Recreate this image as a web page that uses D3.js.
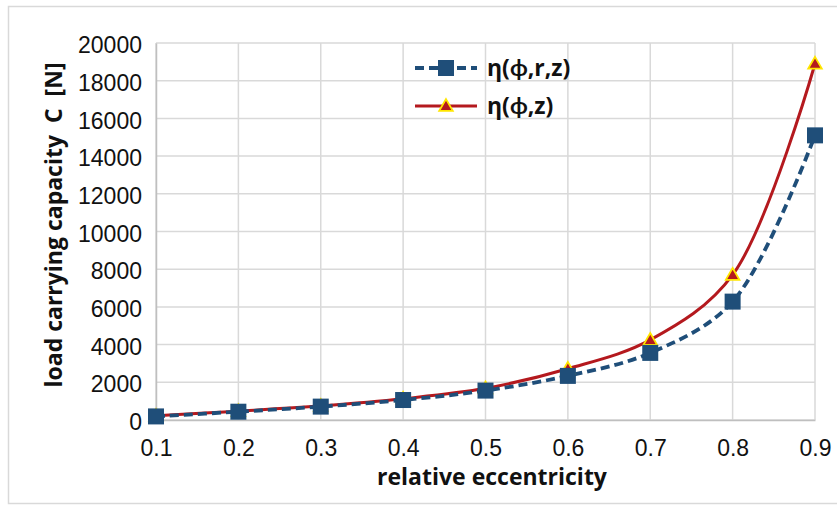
<!DOCTYPE html>
<html>
<head>
<meta charset="utf-8">
<script src="https://cdn.jsdelivr.net/npm/d3@7"></script>
<style>
    body { margin: 0; background: #fff; }
    svg { display: block; font-family: "Open Sans", Lato, sans-serif; }
</style>
</head>
<body>
<div id="chart"></div>
<script>
// values
const eccentricity = [0.1, 0.2, 0.3, 0.4, 0.5, 0.6, 0.7, 0.8, 0.9];
const loadRZ = [190, 440, 710, 1060, 1560, 2340, 3560, 6280, 15100];
const loadZ = [220, 470, 750, 1130, 1680, 2720, 4250, 7700, 18900];
const yTicks = [0, 2000, 4000, 6000, 8000, 10000, 12000, 14000, 16000, 18000, 20000];
const seriesNames = ['η(ϕ,r,z)', 'η(ϕ,z)'];

const W = 837, H = 507;
const margin = { top: 43, right: 22, bottom: 87, left: 156 };
const width = W - margin.left - margin.right;
const height = H - margin.top - margin.bottom;

const blue = '#1f4e79';
const red = '#b4191e';
const grid = '#d9d9d9';

const svg = d3.select('#chart').append('svg')
    .attr('width', W)
    .attr('height', H);

// outer chart frame
svg.append('rect')
    .attr('x', 8.5).attr('y', 6.5)
    .attr('width', W).attr('height', 497)
    .attr('fill', 'none')
    .attr('stroke', '#d9d9d9')
    .attr('stroke-width', 1.5);

const g = svg.append('g')
    .attr('transform', `translate(${margin.left},${margin.top})`);

const x = d3.scaleLinear().domain([0.1, 0.9]).range([0, width]);
const y = d3.scaleLinear().domain([0, 20000]).range([height, 0]);

// grid
g.append('g')
    .selectAll('line')
    .data(yTicks)
    .join('line')
    .attr('x1', 0).attr('x2', width)
    .attr('y1', d => y(d)).attr('y2', d => y(d))
    .attr('stroke', grid).attr('stroke-width', 1.5);

g.append('g')
    .selectAll('line')
    .data(eccentricity)
    .join('line')
    .attr('x1', d => x(d)).attr('x2', d => x(d))
    .attr('y1', 0).attr('y2', height)
    .attr('stroke', grid).attr('stroke-width', 1.5);

// axes
const yAxis = g.append('g')
    .call(d3.axisLeft(y).tickValues(yTicks).tickFormat(d3.format('d')).tickSize(0).tickPadding(14));
yAxis.select('.domain').attr('stroke', '#bfbfbf').attr('stroke-width', 1.5);
yAxis.selectAll('text')
    .style('font-size', '23px')
    .attr('dy', '0.42em')
    .attr('fill', '#111');

const xAxis = g.append('g')
    .attr('transform', `translate(0,${height})`)
    .call(d3.axisBottom(x).tickValues(eccentricity).tickFormat(d3.format('.1f')).tickSize(0).tickPadding(20));
xAxis.select('.domain').attr('stroke', '#bfbfbf').attr('stroke-width', 1.5);
xAxis.selectAll('text').style('font-size', '23px').attr('fill', '#111');

// axis titles
svg.append('text')
    .attr('x', 492)
    .attr('y', 485)
    .attr('text-anchor', 'middle')
    .style('font-size', '23px')
    .style('font-weight', 'bold')
    .attr('fill', '#111')
    .text('relative eccentricity');

svg.append('text')
    .attr('transform', 'translate(62,225) rotate(-90)')
    .attr('text-anchor', 'middle')
    .style('font-size', '23px')
    .style('font-weight', 'bold')
    .style('white-space', 'pre')
    .attr('fill', '#111')
    .text('load carrying capacity  C  [N]');

// lines
const dataRZ = eccentricity.map((e, i) => ({ e, v: loadRZ[i] }));
const dataZ = eccentricity.map((e, i) => ({ e, v: loadZ[i] }));

const line = d3.line()
    .x(d => x(d.e))
    .y(d => y(d.v))
    .curve(d3.curveCatmullRom);

g.append('path')
    .datum(dataZ)
    .attr('d', line)
    .attr('fill', 'none')
    .attr('stroke', red)
    .attr('stroke-width', 3);

g.append('path')
    .datum(dataRZ)
    .attr('d', line)
    .attr('fill', 'none')
    .attr('stroke', blue)
    .attr('stroke-width', 3.8)
    .attr('stroke-dasharray', '9,5');

const tri = d3.symbol().type(d3.symbolTriangle).size(80);

g.selectAll('.tri')
    .data(dataZ)
    .join('path')
    .attr('class', 'tri')
    .attr('d', tri)
    .attr('transform', d => `translate(${x(d.e)},${y(d.v) + 1})`)
    .attr('fill', red)
    .attr('stroke', '#ffe600')
    .attr('stroke-width', 1.8);

g.selectAll('.sq')
    .data(dataRZ)
    .join('rect')
    .attr('class', 'sq')
    .attr('x', d => x(d.e) - 8)
    .attr('y', d => y(d.v) - 8)
    .attr('width', 16)
    .attr('height', 16)
    .attr('fill', blue);

// legend
const legend = svg.append('g').attr('transform', 'translate(415,68)');

legend.append('line')
    .attr('x1', 0).attr('x2', 62).attr('y1', 0).attr('y2', 0)
    .attr('stroke', blue).attr('stroke-width', 3.8)
    .attr('stroke-dasharray', '9,5');
legend.append('rect')
    .attr('x', 23).attr('y', -8).attr('width', 16).attr('height', 16)
    .attr('fill', blue);

legend.append('line')
    .attr('x1', 0).attr('x2', 62).attr('y1', 38).attr('y2', 38)
    .attr('stroke', red).attr('stroke-width', 3);
legend.append('path')
    .attr('d', tri)
    .attr('transform', 'translate(31,39)')
    .attr('fill', red)
    .attr('stroke', '#ffe600')
    .attr('stroke-width', 1.8);

legend.selectAll('.ltext')
    .data(seriesNames)
    .join('text')
    .attr('class', 'ltext')
    .attr('x', 72)
    .attr('y', (d, i) => i * 38 + 8)
    .style('font-size', '23px')
    .style('font-weight', 'bold')
    .attr('fill', '#111')
    .text(d => d);
</script>
</body>
</html>
